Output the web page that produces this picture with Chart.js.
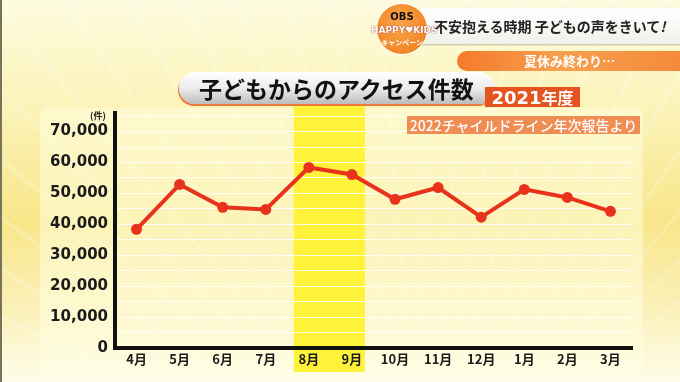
<!DOCTYPE html>
<html lang="ja">
<head>
<meta charset="utf-8">
<script src="https://cdn.jsdelivr.net/npm/chart.js@4"></script>
<style>
  html, body { margin: 0; padding: 0; }
  #stage {
    position: relative; width: 680px; height: 382px; overflow: hidden;
    font-family: "Noto Sans CJK JP", "Noto Sans", sans-serif;
    background:
      repeating-conic-gradient(from 200deg at 62% 135%, rgba(255,255,255,0.18) 0deg 0.5deg, rgba(255,255,255,0) 0.5deg 5deg),
      linear-gradient(180deg, #fdfbdf 0%, #fbf3b8 28%, #f8e68a 58%, #fbf1bb 82%, #fefce9 100%);
    border-left: 2px solid #77745c; box-sizing: border-box;
  }
  #panel {
    position: absolute; left: 38px; top: 108px; width: 603px; height: 268px;
    background: rgba(255, 255, 228, 0.5); border-radius: 6px;
  }
  #chart { position: absolute; left: 0; top: 0; z-index: 1; }
  .ov { position: absolute; z-index: 2; white-space: nowrap; }
  #banner {
    left: 418px; top: 8px; width: 262px; height: 36px;
    background: linear-gradient(180deg, #ffffff, #f1f1ea);
    box-shadow: 0 1px 2px rgba(0,0,0,0.25);
  }
  #bannerText {
    left: 432px; top: 8px; line-height: 36px; font-size: 14px; font-weight: 700; color: #222;
  }
  #subBar {
    left: 455px; top: 51px; width: 225px; height: 20px; border-radius: 10px 0 0 10px;
    background: linear-gradient(90deg, #f47a2a, #f7a050 45%, #f48a3a);
    color: #fff; font-size: 13px; font-weight: 700; line-height: 20px; text-align: center;
  }
  #logo {
    left: 374px; top: 3px; width: 50px; height: 50px; border-radius: 50%;
    background: radial-gradient(circle at 45% 40%, #f9a548, #ee7a1c);
    border: 1px solid #fff; z-index: 3; text-align: center; line-height: 1;
  }
  #logo .obs { margin-top: 7px; font: bold 10px "DejaVu Sans", sans-serif; color: #111; }
  #logo .kids { margin-top: 3px; margin-left: -6px; width: 62px; font: bold 9px "DejaVu Sans", sans-serif; color: #fff;
    text-shadow: 0 0 1px #a33, 0 0 1px #a33; }
  #logo .camp { margin-top: 2px; font: bold 7px "Noto Sans CJK JP", sans-serif; color: #fff; }
  #titlePill {
    left: 177px; top: 72px; width: 316px; height: 32px; border-radius: 16px;
    background: linear-gradient(180deg, #ffffff 0%, #ececec 50%, #bdbdbd 100%);
    box-shadow: -1px 2px 0 #ec7a3a;
    font-size: 23px; font-weight: 700; color: #111; line-height: 32px; padding-left: 20px; box-sizing: border-box;
  }
  #yearTag {
    left: 483px; top: 87px; width: 95px; height: 20px; background: #e5531f; color: #fff;
    line-height: 20px; text-align: center;
  }
  #yearTag .n { font: bold 18px "DejaVu Sans", sans-serif; }
  #yearTag .k { font-size: 16px; font-weight: 700; }
  #source {
    left: 405px; top: 116px; width: 233px; height: 18px; background: #ef8d55; color: #fff;
    font-size: 14px; font-weight: 500; line-height: 18px; text-align: center;
  }
  #unit { left: 88px; top: 109px; font-size: 9px; font-weight: 700; color: #222; }
</style>
</head>
<body>
<div id="stage">
  <div id="panel"></div>
  <canvas id="chart" width="680" height="382"></canvas>
  <div class="ov" id="banner"></div>
  <div class="ov" id="bannerText">不安抱える時期 子どもの声をきいて<i>!</i></div>
  <div class="ov" id="subBar">夏休み終わり…</div>
  <div class="ov" id="logo">
    <div class="obs">OBS</div>
    <div class="kids">HAPPY♥KIDS</div>
    <div class="camp">キャンペーン</div>
  </div>
  <div class="ov" id="titlePill">子どもからのアクセス件数</div>
  <div class="ov" id="yearTag"><span class="n">2021</span><span class="k">年度</span></div>
  <div class="ov" id="source">2022チャイルドライン年次報告より</div>
  <div class="ov" id="unit">(件)</div>
</div>
<script>
  // データ（画像から読み取った概算値）
  const months = ['4月', '5月', '6月', '7月', '8月', '9月', '10月', '11月', '12月', '1月', '2月', '3月'];
  const accessCounts = [38400, 52900, 45500, 44800, 58400, 56100, 48100, 51900, 42300, 51300, 48700, 44200];
  const yTickValues = [0, 10000, 20000, 30000, 40000, 50000, 60000, 70000];
  const highlightMonths = ['8月', '9月'];
  const yMax = 76000;

  // 夏休み明けの月を黄色で強調
  const highlightPlugin = {
    id: 'highlight',
    beforeDraw(chart) {
      const x = chart.scales.x;
      const area = chart.chartArea;
      const step = x.getPixelForValue(1) - x.getPixelForValue(0);
      const left = x.getPixelForValue(months.indexOf(highlightMonths[0])) - step * 0.35;
      const right = x.getPixelForValue(months.indexOf(highlightMonths[1])) + step * 0.3;
      const ctx = chart.ctx;
      ctx.save();
      ctx.fillStyle = '#fff23a';
      ctx.fillRect(left, area.top - 8, right - left, area.bottom - area.top + 32);
      ctx.restore();
    }
  };

  new Chart(document.getElementById('chart'), {
    type: 'line',
    data: {
      labels: months,
      datasets: [{
        data: accessCounts,
        borderColor: '#e8321c',
        backgroundColor: '#e8321c',
        borderWidth: 4,
        pointRadius: 5.5,
        pointBorderWidth: 0,
        pointBackgroundColor: '#e8321c',
        tension: 0,
        fill: false
      }]
    },
    options: {
      responsive: false,
      animation: false,
      devicePixelRatio: 1,
      layout: { padding: { left: 0, right: 50, top: 113, bottom: 0 } },
      plugins: { legend: { display: false }, tooltip: { enabled: false } },
      scales: {
        x: {
          offset: true,
          grid: { color: 'rgba(0,0,0,0)', drawTicks: false },
          border: { color: '#111', width: 4 },
          ticks: {
            padding: 3,
            color: '#1a1a1a',
            font: { family: '"Noto Sans CJK JP"', size: 13, weight: 'bold' }
          },
          afterFit(scale) { scale.height = 34; }
        },
        y: {
          min: 0,
          max: yMax,
          // 目盛りは 0〜70,000、白い横線は半目盛りごと
          afterBuildTicks(scale) {
            const ticks = [];
            yTickValues.forEach(function(v, i) {
              ticks.push({ value: v });
              if (i < yTickValues.length - 1) ticks.push({ value: (v + yTickValues[i + 1]) / 2 });
            });
            ticks.push({ value: 75000 });
            scale.ticks = ticks;
          },
          grid: { color: 'rgba(255,255,255,0.85)', lineWidth: 1, drawTicks: false },
          border: { color: '#111', width: 4 },
          ticks: {
            autoSkip: false,
            padding: 7,
            color: '#1a1a1a',
            font: { family: '"DejaVu Sans"', size: 15, weight: 'bold' },
            callback: function(value) {
              return yTickValues.includes(value) ? value.toLocaleString('en-US') : '';
            }
          },
          afterFit(scale) { scale.width = 113; }
        }
      }
    },
    plugins: [highlightPlugin]
  });
</script>
</body>
</html>
